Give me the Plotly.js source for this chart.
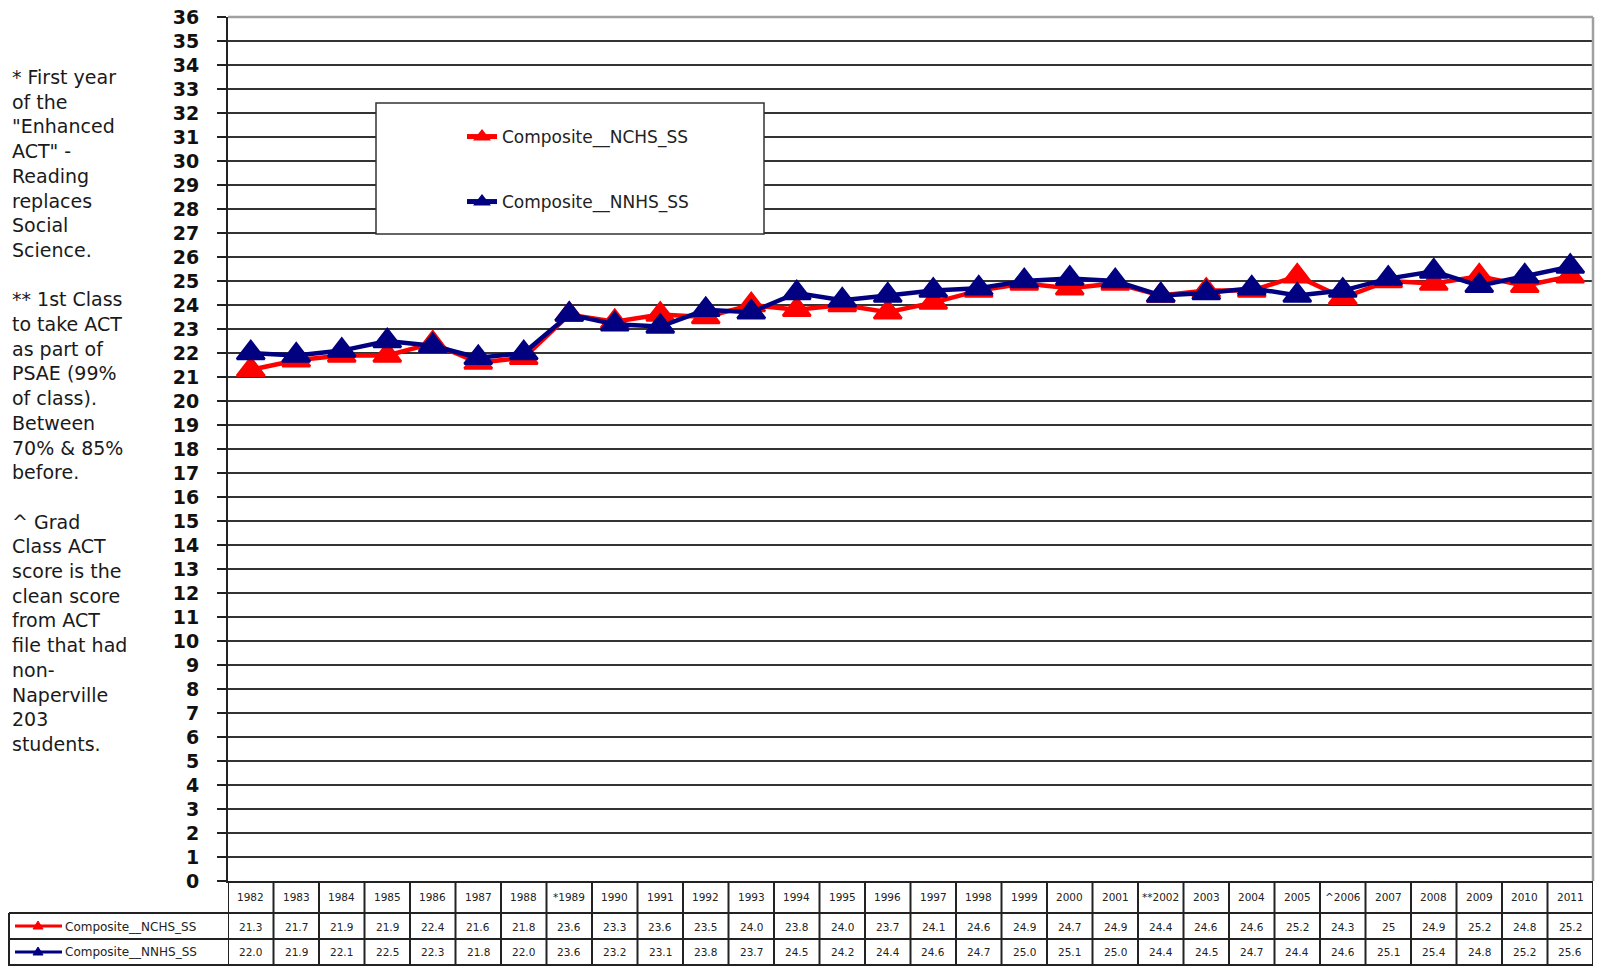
<!DOCTYPE html>
<html>
<head>
<meta charset="utf-8">
<script src="https://cdn.plot.ly/plotly-3.0.1.min.js"></script>
<style>html,body{margin:0;padding:0;background:#fff;}#chart{width:1598px;height:966px;}</style>
</head>
<body>
<div id="chart"></div>
<script>
const years = ["1982","1983","1984","1985","1986","1987","1988","*1989","1990","1991","1992","1993","1994","1995","1996","1997","1998","1999","2000","2001","**2002","2003","2004","2005","^2006","2007","2008","2009","2010","2011"];
const nchsText = ["21.3","21.7","21.9","21.9","22.4","21.6","21.8","23.6","23.3","23.6","23.5","24.0","23.8","24.0","23.7","24.1","24.6","24.9","24.7","24.9","24.4","24.6","24.6","25.2","24.3","25","24.9","25.2","24.8","25.2"];
const nnhsText = ["22.0","21.9","22.1","22.5","22.3","21.8","22.0","23.6","23.2","23.1","23.8","23.7","24.5","24.2","24.4","24.6","24.7","25.0","25.1","25.0","24.4","24.5","24.7","24.4","24.6","25.1","25.4","24.8","25.2","25.6"];
const seriesNames = ["Composite__NCHS_SS", "Composite__NNHS_SS"];
const yTicks = Array.from({length: 37}, (_, i) => i);
const noteLines = ["* First year","of the","\"Enhanced","ACT\" -","Reading","replaces","Social","Science.","","** 1st Class","to take ACT","as part of","PSAE (99%","of class).","Between","70% & 85%","before.","","^ Grad","Class ACT","score is the","clean score","from ACT","file that had","non-","Naperville","203","students."];

const nchs = nchsText.map(Number);
const nnhs = nnhsText.map(Number);

// ---- geometry helpers (pixel -> paper) ----
const L = 228, R = 1593, T = 17, B = 881;
const fx = px => (px - L) / (R - L);
const fy = py => (B - py) / (B - T);

const RED = "#FF0000", NAVY = "#000080";
const FONT = "DejaVu Sans";
const LINEC = "#222";

const traces = [
  {x: years, y: nchs, name: seriesNames[0], type: "scatter", mode: "lines+markers",
   line: {color: RED, width: 4.5}, marker: {symbol: "triangle-up", size: 24, color: RED, line: {color: RED, width: 2.5}},
   legend: "legend", hoverinfo: "x+y"},
  {x: years, y: nnhs, name: seriesNames[1], type: "scatter", mode: "lines+markers",
   line: {color: NAVY, width: 4.5}, marker: {symbol: "triangle-up", size: 24, color: NAVY, line: {color: NAVY, width: 2.5}},
   legend: "legend2", hoverinfo: "x+y"}
];

const shapes = [];
// grey top / right plot border
shapes.push({type: "line", xref: "paper", yref: "paper", x0: 0, x1: 1, y0: 1, y1: 1, line: {color: "#a0a0a0", width: 2.5}, layer: "above"});
shapes.push({type: "line", xref: "paper", yref: "paper", x0: 1, x1: 1, y0: 0, y1: 1, line: {color: "#a0a0a0", width: 2.5}, layer: "above"});
// legend box
shapes.push({type: "rect", xref: "paper", yref: "paper", x0: fx(376), x1: fx(764), y0: fy(234), y1: fy(103),
  fillcolor: "#fff", line: {color: "#333", width: 1.5}, layer: "above"});
// table vertical separators
for (let i = 0; i <= years.length; i++) {
  shapes.push({type: "line", xref: "x", yref: "paper", x0: i - 0.5, x1: i - 0.5, y0: 0, y1: fy(968),
    line: {color: LINEC, width: 2}, layer: "above"});
}
// table horizontal lines
[913, 939, 965].forEach(py => {
  shapes.push({type: "line", xref: "paper", yref: "paper", x0: fx(9), x1: fx(R), y0: fy(py), y1: fy(py),
    line: {color: LINEC, width: 2}, layer: "above"});
});
// row label column left border
shapes.push({type: "line", xref: "paper", yref: "paper", x0: fx(9), x1: fx(9), y0: fy(913), y1: fy(968),
  line: {color: LINEC, width: 2}, layer: "above"});
// row keys
[[926, RED], [952, NAVY]].forEach(([py, c]) => {
  shapes.push({type: "line", xref: "paper", yref: "paper", x0: fx(15), x1: fx(62), y0: fy(py), y1: fy(py),
    line: {color: c, width: 3}, layer: "above"});
  const cx = 38;
  shapes.push({type: "path", xref: "paper", yref: "paper",
    path: `M ${fx(cx - 5)} ${fy(py + 3)} L ${fx(cx + 5)} ${fy(py + 3)} L ${fx(cx)} ${fy(py - 5)} Z`,
    fillcolor: c, line: {color: c, width: 1}, layer: "above"});
});

const annotations = [];
years.forEach((yr, i) => {
  annotations.push({xref: "x", yref: "paper", x: i, y: fy(897), text: yr, showarrow: false,
    xanchor: "center", yanchor: "middle", font: {family: FONT, size: 10.5, color: "#222"}});
  annotations.push({xref: "x", yref: "paper", x: i, y: fy(926.5), text: nchsText[i], showarrow: false,
    xanchor: "center", yanchor: "middle", font: {family: FONT, size: 10.5, color: "#222"}});
  annotations.push({xref: "x", yref: "paper", x: i, y: fy(952.5), text: nnhsText[i], showarrow: false,
    xanchor: "center", yanchor: "middle", font: {family: FONT, size: 10.5, color: "#222"}});
});
annotations.push({xref: "paper", yref: "paper", x: fx(63), y: fy(926.5), text: seriesNames[0], showarrow: false,
  xanchor: "left", yanchor: "middle", font: {family: FONT, size: 12, color: "#222"}});
annotations.push({xref: "paper", yref: "paper", x: fx(63), y: fy(952.5), text: seriesNames[1], showarrow: false,
  xanchor: "left", yanchor: "middle", font: {family: FONT, size: 12, color: "#222"}});
// side note
annotations.push({xref: "paper", yref: "paper", x: fx(10), y: fy(64), text: noteLines.join("<br>"), showarrow: false,
  xanchor: "left", yanchor: "top", align: "left", font: {family: FONT, size: 19, color: "#1a1a1a"}});

const legendCommon = {xanchor: "left", yanchor: "middle", bgcolor: "rgba(0,0,0,0)", borderwidth: 0,
  font: {family: FONT, size: 17, color: "#222"}, itemsizing: "constant"};

const layout = {
  width: 1598, height: 966,
  margin: {l: L, r: 1598 - R, t: T, b: 966 - B, pad: 0},
  paper_bgcolor: "#fff", plot_bgcolor: "#fff",
  showlegend: true,
  legend: Object.assign({x: fx(462), y: fy(137)}, legendCommon),
  legend2: Object.assign({x: fx(462), y: fy(202)}, legendCommon),
  xaxis: {type: "category", range: [-0.5, years.length - 0.5], showticklabels: false, ticks: "",
    showgrid: false, zeroline: false, showline: true, linecolor: LINEC, linewidth: 2, fixedrange: true},
  yaxis: {range: [0, 36], tickvals: yTicks, ticktext: yTicks.map(String), ticks: "outside", ticklen: 9, tickwidth: 2,
    tickcolor: LINEC, showline: true, linecolor: LINEC, linewidth: 2, showgrid: true, gridcolor: "#333", gridwidth: 2,
    zeroline: false, ticklabelstandoff: 14, fixedrange: true,
    tickfont: {family: FONT, size: 19, weight: 700, color: "#111"}},
  shapes: shapes,
  annotations: annotations
};

Plotly.newPlot("chart", traces, layout, {displayModeBar: false, staticPlot: true});
</script>
</body>
</html>
